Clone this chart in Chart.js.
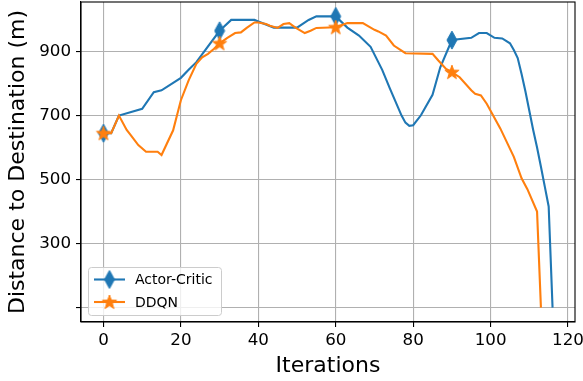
<!DOCTYPE html>
<html>
<head>
<meta charset="utf-8">
<title>Distance to Destination</title>
<script src="https://cdn.jsdelivr.net/npm/chart.js@4/dist/chart.umd.min.js"></script>
<style>
  body { margin: 0; background: #fff; }
  canvas { display: block; }
</style>
</head>
<body>
<canvas id="distChart" width="583" height="381"></canvas>
<script>
// Values (iteration, distance in m)
const acX = [0, 2, 4, 10, 13, 15, 20, 22, 24, 30, 33, 39, 40, 44, 50, 53, 55, 60, 63, 66, 69, 72, 74, 77, 78, 79, 80, 82, 85, 87, 90, 95, 97, 99, 101, 103, 105, 106, 107, 108, 109, 110, 111, 112, 113, 114, 115, 116];
const acY = [645, 645, 700, 721, 773, 779, 818, 843, 867, 965, 999, 999, 994, 975, 975, 999, 1010, 1010, 975, 950, 915, 843, 784, 700, 678, 668, 670, 701, 765, 851, 936, 943, 958, 958, 943, 941, 926, 905, 880, 830, 775, 715, 655, 600, 540, 478, 416, 100];

const ddqnX = [0, 2, 4, 6, 7, 9, 11, 14, 15, 18, 19, 20, 22, 24, 25.5, 27, 28.5, 30, 32, 34, 35.5, 37, 39, 40, 42, 43, 45, 46.5, 48, 49.5, 52, 53.5, 55, 60, 63, 67, 70, 71, 73, 75, 78, 85, 86.5, 88.5, 90, 92, 95, 96, 97.5, 99, 102.5, 106, 108, 109.5, 112, 113];
const ddqnY = [645, 645, 700, 655, 640, 608, 587, 587, 577, 654, 701, 748, 810, 862, 882, 893, 908, 926, 943, 958, 960, 974, 991, 991, 986, 981, 974, 986, 989, 976, 958, 965, 974, 976, 989, 989, 968, 963, 950, 919, 895, 893, 872, 846, 836, 820, 779, 768, 763, 737, 660, 571, 504, 470, 400, 100];

const markerIters = [0, 30, 60, 90];
const xTicks = [0, 20, 40, 60, 80, 100, 120];
const yTicks = [100, 300, 500, 700, 900];
const yTickLabels = ['', '300', '500', '700', '900'];
const seriesNames = ['Actor-Critic', 'DDQN'];

const BLUE = '#1f77b4';
const ORANGE = '#ff7f0e';
const FONT = 'DejaVu Sans';

Chart.defaults.font.family = FONT;
Chart.defaults.color = '#000';

// marker images (matplotlib 'd' and '*')
function thinDiamond(color) {
  const c = document.createElement('canvas');
  c.width = 12; c.height = 20;
  const g = c.getContext('2d');
  g.beginPath();
  g.moveTo(6, 1); g.lineTo(11, 10); g.lineTo(6, 19); g.lineTo(1, 10);
  g.closePath();
  g.fillStyle = color; g.strokeStyle = color; g.lineWidth = 1;
  g.fill(); g.stroke();
  return c;
}

function star(color) {
  const c = document.createElement('canvas');
  c.width = 18; c.height = 18;
  const g = c.getContext('2d');
  const cx = 9, cy = 9.5, ro = 7.5, ri = 3;
  g.beginPath();
  for (let i = 0; i < 10; i++) {
    const r = i % 2 ? ri : ro;
    const a = -Math.PI / 2 + i * Math.PI / 5;
    const px = cx + r * Math.cos(a), py = cy + r * Math.sin(a);
    if (i === 0) g.moveTo(px, py); else g.lineTo(px, py);
  }
  g.closePath();
  g.fillStyle = color; g.strokeStyle = color; g.lineWidth = 1;
  g.fill(); g.stroke();
  return c;
}

const acMarker = thinDiamond(BLUE);
const ddqnMarker = star(ORANGE);

function toPoints(xs, ys) {
  return xs.map((x, i) => ({ x: x, y: ys[i] }));
}

function markEvery(ctx) {
  return ctx.raw && markerIters.includes(ctx.raw.x) ? 5 : 0;
}

// full box around the plot, like matplotlib spines
const frame = {
  id: 'frame',
  afterDatasetsDraw(chart) {
    const a = chart.chartArea;
    const ctx = chart.ctx;
    ctx.save();
    ctx.strokeStyle = '#000';
    ctx.lineWidth = 1.1;
    ctx.strokeRect(a.left, a.top, a.right - a.left, a.bottom - a.top);
    ctx.restore();
  }
};

// legend drawn inside the plot, lower left
const innerLegend = {
  id: 'innerLegend',
  afterDraw(chart) {
    const ctx = chart.ctx;
    const x0 = 88.5, y0 = 267.5, w = 133, h = 48, r = 3;
    ctx.save();
    ctx.beginPath();
    ctx.moveTo(x0 + r, y0);
    ctx.arcTo(x0 + w, y0, x0 + w, y0 + h, r);
    ctx.arcTo(x0 + w, y0 + h, x0, y0 + h, r);
    ctx.arcTo(x0, y0 + h, x0, y0, r);
    ctx.arcTo(x0, y0, x0 + w, y0, r);
    ctx.closePath();
    ctx.fillStyle = 'rgba(255,255,255,0.8)';
    ctx.fill();
    ctx.strokeStyle = '#cccccc';
    ctx.lineWidth = 1;
    ctx.stroke();

    const rows = [
      { name: seriesNames[0], color: BLUE, img: acMarker, y: 279.5 },
      { name: seriesNames[1], color: ORANGE, img: ddqnMarker, y: 302 }
    ];
    ctx.font = '14px "' + FONT + '"';
    ctx.textBaseline = 'middle';
    rows.forEach(row => {
      ctx.beginPath();
      ctx.moveTo(94, row.y);
      ctx.lineTo(125, row.y);
      ctx.strokeStyle = row.color;
      ctx.lineWidth = 2.1;
      ctx.stroke();
      ctx.drawImage(row.img, 109.5 - row.img.width / 2, row.y - row.img.height / 2);
      ctx.fillStyle = '#000';
      ctx.fillText(row.name, 135, row.y + 1);
    });
    ctx.restore();
  }
};

new Chart(document.getElementById('distChart'), {
  type: 'line',
  data: {
    datasets: [
      {
        label: seriesNames[0],
        data: toPoints(acX, acY),
        borderColor: BLUE,
        backgroundColor: BLUE,
        borderWidth: 2.1,
        pointStyle: acMarker,
        pointRadius: markEvery,
        pointHoverRadius: markEvery,
        tension: 0,
        order: 2
      },
      {
        label: seriesNames[1],
        data: toPoints(ddqnX, ddqnY),
        borderColor: ORANGE,
        backgroundColor: ORANGE,
        borderWidth: 2.1,
        pointStyle: ddqnMarker,
        pointRadius: markEvery,
        pointHoverRadius: markEvery,
        tension: 0,
        order: 1
      }
    ]
  },
  options: {
    responsive: false,
    animation: false,
    events: [],
    layout: { autoPadding: false, padding: { left: 0, right: 8, top: 2, bottom: 0 } },
    plugins: {
      legend: { display: false },
      tooltip: { enabled: false }
    },
    scales: {
      x: {
        type: 'linear',
        min: -5.8,
        max: 121.8,
        afterBuildTicks: s => { s.ticks = xTicks.map(v => ({ value: v })); },
        afterFit: s => { s.height = 59; s.paddingLeft = 0; s.paddingRight = 0; },
        ticks: { font: { size: 16.7 }, color: '#000', padding: 4, maxRotation: 0 },
        grid: { color: '#b0b0b0', lineWidth: 1.1, tickLength: 5, tickColor: '#000', tickWidth: 1.1 },
        border: { color: '#000', width: 1.1 },
        title: { display: true, text: 'Iterations', font: { size: 22 }, color: '#000', padding: { top: 0, bottom: 2 } }
      },
      y: {
        min: 55,
        max: 1055,
        afterBuildTicks: s => { s.ticks = yTicks.map(v => ({ value: v })); },
        afterFit: s => { s.width = 81; s.paddingTop = 0; s.paddingBottom = 0; },
        ticks: {
          font: { size: 16.7 },
          color: '#000',
          padding: 5,
          callback: (v, i) => yTickLabels[i]
        },
        grid: { color: '#b0b0b0', lineWidth: 1.1, tickLength: 5, tickColor: '#000', tickWidth: 1.1 },
        border: { color: '#000', width: 1.1 },
        title: { display: true, text: 'Distance to Destination (m)', font: { size: 22 }, color: '#000', padding: { top: 5, bottom: 0 } }
      }
    }
  },
  plugins: [frame, innerLegend]
});
</script>
</body>
</html>
